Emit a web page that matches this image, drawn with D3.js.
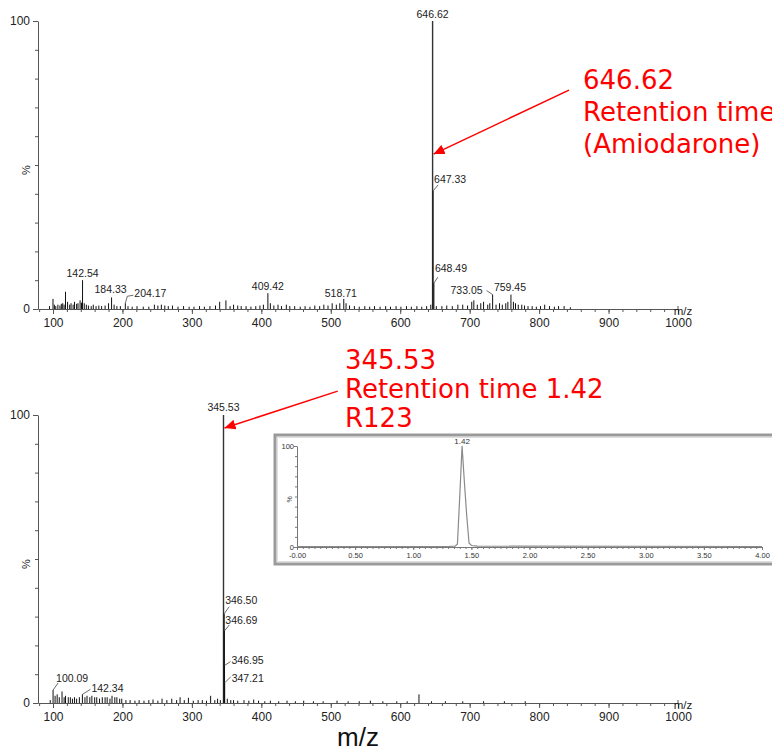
<!DOCTYPE html>
<html>
<head>
<meta charset="utf-8">
<script src="https://cdn.jsdelivr.net/npm/d3@7"></script>
<style>
  body { margin: 0; background: #fff; }
  svg { display: block; }
</style>
</head>
<body>
<script>
const W = 772
const H = 751

// top spectrum : labelled peaks [m/z, %]
const topPeaks = [
  [646.62, 100], [647.33, 41], [648.49, 9], [142.54, 10], [184.33, 4],
  [204.17, 2], [409.42, 5.5], [518.71, 3.5], [733.05, 5], [759.45, 5]
]
// top spectrum : small unlabelled peaks
const topNoise = [
  [95,1],[100,3.5],[102,1.5],[104,1],[107,1.5],[110,1.2],[112,1.8],[114,2],[116,1.5],[118,6],[121,2.5],[124,1.5],[126,2],
  [129,1.5],[131,2.5],[134,1.8],[136,2],[139,3],[141,2.2],[145,2],[148,1.5],[151,1.2],[155,1],[158,1.5],
  [162,1],[166,1.2],[170,1],[175,1.2],[180,2],[188,1.5],[192,1],[197,1],[208,1],[214,0.8],
  [221,1],[230,0.8],[238,0.8],[246,1.5],[251,1.2],[256,1.5],[261,1.2],[266,1],[272,1.2],[280,0.8],
  [288,1],[296,0.8],[303,0.8],[311,1],[318,0.8],[326,1],[334,1.2],[340,2.5],[349,3],[355,1],
  [360,1.5],[366,1.2],[371,1],[378,1],[385,0.8],[392,1],[398,1.2],[403,1.5],[413,2],[418,1.2],
  [424,1.5],[429,1],[436,1.5],[441,1],[448,1],[456,0.8],[463,1],[470,0.8],[477,1.2],[484,1],
  [490,1.5],[496,1.2],[502,2],[508,1.5],[513,2],[522,2],[527,1.2],[534,1],[541,0.8],[549,1],
  [556,0.8],[563,1],[571,0.8],[579,1],[586,0.8],[594,1],[601,0.8],[609,1],[616,0.8],[624,1],
  [631,0.8],[638,1],[644,1.5],[652,1],[660,1],[667,1.2],[675,1],[683,1.5],[690,1.5],[697,1.2],
  [703,2.5],[706,3],[711,1.5],[716,2],[720,2.5],[726,1.5],[729,2],[738,1.5],[743,2],[747,1.5],
  [752,2],[755,2.5],[763,2.5],[766,2],[770,1.5],[775,1.5],[779,1.2],[784,1],[790,1],[796,0.8],
  [802,1],[808,1.5],[815,1],[822,0.8],[828,1],[836,1],[845,0.6]
]

// bottom spectrum : labelled peaks
const botPeaks = [
  [345.53, 100], [346.50, 31], [346.69, 25], [346.95, 13], [347.21, 7],
  [100.09, 4.5], [142.34, 3]
]
const botNoise = [
  [96,1],[103,2.5],[106,3],[109,2],[113,4],[116,2],[118,2.5],[122,2],[125,2],[128,1.5],
  [131,2],[134,1.5],[138,2],[146,2],[149,2.5],[153,2],[156,2.5],[160,2],[163,2],[167,1.5],
  [171,2],[175,2],[178,2],[182,1.5],[185,2.5],[189,2],[192,2],[196,1.5],[199,1.5],[205,1],
  [211,1],[218,0.8],[224,1],[231,0.8],[238,1],[244,1.2],[251,0.8],[257,1.5],[264,1],[271,1.5],
  [278,1],[283,2],[289,1],[295,1.8],[302,0.8],[309,1],[315,1],[321,0.8],[327,2.5],[333,1],
  [337,1.5],[341,1],[351,1.5],[356,1],[360,1],[366,0.8],[375,1],[382,0.8],[389,1.2],[396,0.8],
  [405,0.6],[413,0.8],[425,0.6],[437,0.8],[449,0.6],[461,0.8],[475,0.6],[489,0.6],[509,0.8],[525,0.6],
  [541,0.6],[557,0.8],[575,0.6],[595,0.6],[610,0.6],[627,3],[645,0.6],[665,0.6],[690,0.6],[720,0.6],
  [750,0.6],[780,0.6]
]

// inset chromatogram [time, %]
const chromTime = [0.00, 1.30, 1.36, 1.38, 1.40, 1.42, 1.44, 1.46, 1.48, 1.50, 1.55, 4.00]
const chromPct  = [0.5, 0.5, 0.8, 3, 50, 100, 64, 31, 4, 1.5, 0.8, 0.5]
const chromPeakLabel = '1.42'

const mzTicks = [100, 200, 300, 400, 500, 600, 700, 800, 900, 1000]
const timeTicks = [0, 0.5, 1, 1.5, 2, 2.5, 3, 3.5, 4]

const topNote = ['646.62', 'Retention time', '(Amiodarone)']
const botNote = ['345.53', 'Retention time 1.42', 'R123']

// label placement (pixel offsets from peak top; lead = leader line end)
const labelPos = {
  top: {
    '646.62': {dx: 0, dy: -3, a: 'middle'},
    '647.33': {dx: 1, dy: -8, a: 'start', lead: [5, -6]},
    '648.49': {dx: 1, dy: -11, a: 'start', lead: [4, -6]},
    '142.54': {dx: 0, dy: -3, a: 'middle'},
    '184.33': {dx: -1, dy: -4, a: 'middle'},
    '204.17': {dx: 9, dy: -6, a: 'start', lead: [2, -7], lead2: [8, -8]},
    '409.42': {dx: 0, dy: -3, a: 'middle'},
    '518.71': {dx: -3, dy: -2, a: 'middle'},
    '733.05': {dx: -10, dy: -1, a: 'end', lead: [-6, -4]},
    '759.45': {dx: -1, dy: -4, a: 'middle'}
  },
  bot: {
    '345.53': {dx: 0, dy: -4, a: 'middle'},
    '346.50': {dx: 1, dy: -10, a: 'start', lead: [5, -7]},
    '346.69': {dx: 1, dy: -7, a: 'start', lead: [5, -6]},
    '346.95': {dx: 7, dy: -2, a: 'start', lead: [6, -4]},
    '347.21': {dx: 7, dy: -1, a: 'start', lead: [6, -6]},
    '100.09': {dx: 3, dy: -8, a: 'start', lead: [5, -7]},
    '142.34': {dx: 9, dy: -2, a: 'start', lead: [8, -5]}
  }
}

const svg = d3.select('body')
              .append('svg')
              .attr('width', W)
              .attr('height', H)
              .style('font-family', '"Liberation Sans", Arial, sans-serif')

svg.append('defs').append('marker')
   .attr('id', 'arrow')
   .attr('markerUnits', 'userSpaceOnUse')
   .attr('markerWidth', 12)
   .attr('markerHeight', 10)
   .attr('refX', 11)
   .attr('refY', 5)
   .attr('orient', 'auto')
   .append('path')
   .attr('d', 'M0,0 L11,5 L0,10 Z')
   .attr('fill', '#ff0000')

const xScale = d3.scaleLinear()
                 .domain([78.4, 1000])
                 .range([38, 678])

const yTop = d3.scaleLinear().domain([0, 100]).range([309, 21])
const yBot = d3.scaleLinear().domain([0, 100]).range([703, 415])

const axisColor = '#555'

drawSpectrum = (y, noise, peaks, pos) => {
  const g = svg.append('g')

  // x axis
  const xa = g.append('g')
              .attr('transform', `translate(0, ${y(0)})`)
              .call(d3.axisBottom(xScale).tickValues(mzTicks).tickSize(5).tickSizeOuter(0).tickFormat(d3.format('d')))
  xa.append('g')
    .call(d3.axisBottom(xScale).tickValues(d3.range(80, 1000, 20)).tickSize(3).tickFormat(''))
    .select('.domain').remove()
  xa.append('line')
    .attr('x1', xScale(1000)).attr('x2', xScale(1000))
    .attr('y1', 0).attr('y2', -3)
  xa.append('text')
    .attr('x', xScale(1000) + 5)
    .attr('y', 6)
    .attr('fill', '#222')
    .style('font-size', '11.5px')
    .text('m/z')

  // y axis
  const ya = g.append('g')
              .attr('transform', `translate(${xScale.range()[0]}, 0)`)
              .call(d3.axisLeft(y).tickValues([0, 100]).tickSize(5).tickSizeOuter(0))
  ya.append('g')
    .call(d3.axisLeft(y).tickValues(d3.range(10, 100, 10)).tickSize(3).tickFormat(''))
    .select('.domain').remove()
  ya.append('text')
    .attr('transform', `translate(-8, ${y(50) + 5}) rotate(-90)`)
    .attr('text-anchor', 'middle')
    .attr('fill', '#222')
    .style('font-size', '11px')
    .text('%')

  g.selectAll('.domain, .tick line, line').attr('stroke', axisColor)
  g.selectAll('.tick text').attr('fill', '#222').style('font-size', '12px').style('font-family', '"Liberation Sans", Arial, sans-serif')
  xa.selectAll('.tick text').attr('dy', '0.85em')

  // spectrum sticks
  g.append('g')
    .selectAll('line')
    .data(noise.concat(peaks))
    .enter()
    .append('line')
    .attr('x1', d => xScale(d[0]))
    .attr('x2', d => xScale(d[0]))
    .attr('y1', y(0))
    .attr('y2', d => y(d[1]))
    .attr('stroke', d => d[1] >= 99 ? '#333' : '#111')
    .attr('stroke-width', d => d[1] >= 99 ? 1.4 : 1)

  // peak labels
  const lab = g.append('g')
  peaks.forEach(d => {
    const t = d[0].toFixed(2)
    const p = pos[t]
    const px = xScale(d[0])
    const py = y(d[1])
    if (p.lead) {
      let pts = [[px, py], [px + p.lead[0], py + p.lead[1]]]
      if (p.lead2) pts.push([px + p.lead2[0], py + p.lead2[1]])
      lab.append('path')
         .attr('d', d3.line()(pts))
         .attr('fill', 'none')
         .attr('stroke', '#444')
         .attr('stroke-width', 0.8)
    }
    lab.append('text')
       .attr('x', px + p.dx)
       .attr('y', py + p.dy)
       .attr('text-anchor', p.a)
       .attr('fill', '#222')
       .style('font-size', '10.5px')
       .text(t)
  })
}

drawSpectrum(yTop, topNoise, topPeaks, labelPos.top)
drawSpectrum(yBot, botNoise, botPeaks, labelPos.bot)

// inset chromatogram
const inset = svg.append('g')
inset.append('rect')
     .attr('x', 275).attr('y', 435)
     .attr('width', 530).attr('height', 129)
     .attr('fill', '#fff')
     .attr('stroke', '#9a9a9a')
     .attr('stroke-width', 3)
inset.append('rect')
     .attr('x', 277.5).attr('y', 437.5)
     .attr('width', 530).attr('height', 124)
     .attr('fill', 'none')
     .attr('stroke', '#dedede')
     .attr('stroke-width', 1)

const tx = d3.scaleLinear().domain([0, 4]).range([297, 762])
const ty = d3.scaleLinear().domain([0, 100]).range([547, 446])

const ixa = inset.append('g')
                 .attr('transform', `translate(0, ${ty(0)})`)
                 .call(d3.axisBottom(tx).tickValues(timeTicks).tickSize(3).tickSizeOuter(0)
                         .tickFormat(d => d === 0 ? '-0.00' : d3.format('.2f')(d)))
ixa.append('g')
   .call(d3.axisBottom(tx).tickValues(d3.range(0.05, 4, 0.05)).tickSize(2).tickFormat(''))
   .select('.domain').remove()
const iya = inset.append('g')
                 .attr('transform', `translate(${tx(0)}, 0)`)
                 .call(d3.axisLeft(ty).tickValues([0, 100]).tickSize(3).tickSizeOuter(0))
iya.append('g')
   .call(d3.axisLeft(ty).tickValues(d3.range(10, 100, 10)).tickSize(2).tickFormat(''))
   .select('.domain').remove()
iya.append('text')
   .attr('transform', `translate(-5, ${ty(50) + 3}) rotate(-90)`)
   .attr('text-anchor', 'middle')
   .attr('fill', '#444')
   .style('font-size', '7px')
   .text('%')
inset.selectAll('.domain, .tick line').attr('stroke', '#777')
inset.selectAll('.tick text').attr('fill', '#333').style('font-size', '7.5px').style('font-family', '"Liberation Sans", Arial, sans-serif')
iya.selectAll('.tick text').attr('x', -3)

const chrom = chromTime.map((t, i) => [t, chromPct[i]])
inset.append('path')
     .attr('d', d3.line().x(d => tx(d[0])).y(d => ty(d[1]))(chrom))
     .attr('fill', 'none')
     .attr('stroke', '#8a8a8a')
     .attr('stroke-width', 1.2)
inset.append('text')
     .attr('x', tx(+chromPeakLabel))
     .attr('y', ty(100) - 2)
     .attr('text-anchor', 'middle')
     .attr('fill', '#333')
     .style('font-size', '8px')
     .text(chromPeakLabel)

// red notes + arrows
const red = '#ff0000'
svg.append('line')
   .attr('x1', xScale(843)).attr('y1', yTop(76))
   .attr('x2', xScale(646.62) + 1).attr('y2', yTop(53.8))
   .attr('stroke', red).attr('stroke-width', 1.5)
   .attr('marker-end', 'url(#arrow)')
svg.append('line')
   .attr('x1', xScale(510)).attr('y1', yBot(108.3))
   .attr('x2', xScale(345.53) + 1).attr('y2', yBot(95.5))
   .attr('stroke', red).attr('stroke-width', 1.5)
   .attr('marker-end', 'url(#arrow)')

svg.append('text')
   .attr('fill', red)
   .style('font-family', '"DejaVu Sans", sans-serif')
   .style('font-size', '26px')
   .selectAll('tspan')
   .data(topNote)
   .enter()
   .append('tspan')
   .attr('x', 583)
   .attr('y', (d, i) => 89 + i * 32)
   .text(d => d)

svg.append('text')
   .attr('fill', red)
   .style('font-family', '"DejaVu Sans", sans-serif')
   .style('font-size', '26px')
   .selectAll('tspan')
   .data(botNote)
   .enter()
   .append('tspan')
   .attr('x', 345)
   .attr('y', (d, i) => 369 + i * 29)
   .text(d => d)

svg.append('text')
   .attr('x', 358)
   .attr('y', 746)
   .attr('text-anchor', 'middle')
   .attr('fill', '#111')
   .style('font-size', '26px')
   .text('m/z')
</script>
</body>
</html>
